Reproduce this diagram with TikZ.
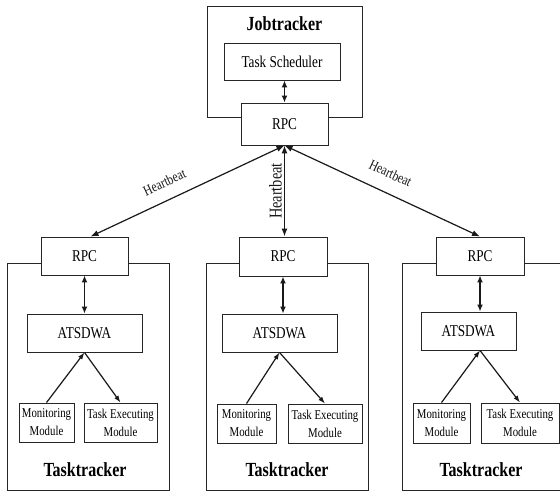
\documentclass[tikz,border=0pt]{standalone}
\usepackage{fontspec}
\setmainfont[FakeStretch=0.8]{Liberation Serif}
\usetikzlibrary{arrows.meta}
\begin{document}
\begin{tikzpicture}[x=1pt,y=-1pt,
  box/.style={draw=black!85,line width=0.9pt,fill=white,rectangle,inner sep=0pt,anchor=center},
  outer/.style={draw=black!85,line width=0.9pt,rectangle,inner sep=0pt},
  mid/.style={font=\fontsize{16.5}{18}\selectfont},
  small/.style={font=\fontsize{13.5}{18}\selectfont,align=center},
  title/.style={font=\fontsize{20}{22}\selectfont\bfseries},
  dbl/.style={{Latex[length=7pt,width=6pt]}-{Latex[length=7pt,width=6pt]},line width=1.8pt,black!90},
  arr/.style={-{Latex[length=7pt,width=5pt]},line width=1.2pt,black!90},
  hb/.style={{Latex[length=8pt,width=6pt]}-{Latex[length=8pt,width=6pt]},line width=1.2pt,black!90},
  hblab/.style={font=\fontsize{14.5}{16}\selectfont,sloped,above,inner sep=2pt}
]
\useasboundingbox (0,0) rectangle (560,491);
\clip (0,0) rectangle (560,491);
\fill[white] (0,0) rectangle (560,491);

% Jobtracker
\node[outer,minimum width=155pt,minimum height=111pt] (job) at (284.5,61.5) {};
\node[title] (jt) at (284.5,24) {Jobtracker};
\node[box,mid,minimum width=116pt,minimum height=37pt] (ts) at (282,61.5) {Task Scheduler};
\node[box,mid,minimum width=87pt,minimum height=42pt] (jrpc) at (284.5,124) {RPC};
\draw[dbl] (ts.south -| jrpc.north) -- (jrpc.north);

% Left tasktracker
\node[outer,minimum width=162pt,minimum height=227pt] (oL) at (88,376.5) {};
\node[box,mid,minimum width=87pt,minimum height=38pt] (rpcL) at (84.5,256) {RPC};
\node[box,mid,minimum width=115pt,minimum height=38pt] (atsL) at (84.5,333) {ATSDWA};
\node[box,small,minimum width=55pt,minimum height=39pt] (monL) at (46.5,422.5) {Monitoring\\Module};
\node[box,small,minimum width=73pt,minimum height=39pt] (exL) at (120.5,422.5) {Task Executing\\Module};
\node[title] (ttL) at (85,470) {Tasktracker};
\draw[dbl] (rpcL.south) -- (atsL.north);
\coordinate (apL) at (atsL.south);
\draw[arr] (monL.north) -- (apL);
\draw[arr] (apL) -- (exL.north);

% Middle tasktracker
\node[outer,minimum width=162pt,minimum height=227pt] (oM) at (287,376.5) {};
\node[box,mid,minimum width=88pt,minimum height=39pt] (rpcM) at (283,256.5) {RPC};
\node[box,mid,minimum width=115pt,minimum height=38pt] (atsM) at (279.5,333) {ATSDWA};
\node[box,small,minimum width=59pt,minimum height=39pt] (monM) at (246.5,423.5) {Monitoring\\Module};
\node[box,small,minimum width=74pt,minimum height=39pt] (exM) at (325,423.5) {Task Executing\\Module};
\node[title] (ttM) at (287,470) {Tasktracker};
\draw[dbl] (rpcM.south) -- (rpcM.south |- atsM.north);
\coordinate (apM) at (atsM.south);
\draw[arr] (monM.north) -- (apM);
\draw[arr] (apM) -- (exM.north);

% Right tasktracker
\node[outer,minimum width=170pt,minimum height=227pt] (oR) at (487,376.5) {};
\node[box,mid,minimum width=88pt,minimum height=38pt] (rpcR) at (480,256) {RPC};
\node[box,mid,minimum width=95pt,minimum height=38pt] (atsR) at (468.5,331) {ATSDWA};
\node[box,small,minimum width=57pt,minimum height=40pt] (monR) at (441.5,423) {Monitoring\\Module};
\node[box,small,minimum width=78pt,minimum height=40pt] (exR) at (520,423) {Task Executing\\Module};
\node[title] (ttR) at (481,470) {Tasktracker};
\draw[dbl] (rpcR.south) -- (rpcR.south |- atsR.north);
\coordinate (apR) at (rpcR.south |- atsR.south);
\draw[arr] (monR.north) -- (apR);
\draw[arr] (apR) -- (exR.north);

% Heartbeats
\draw[hb] ([xshift=6pt]rpcL.north) -- node[hblab,pos=0.42,yshift=10pt] {Heartbeat} (jrpc.south);
\draw[hb] (jrpc.south) -- node[hblab,pos=0.5,yshift=12pt] {Heartbeat} (rpcR.north);
\draw[hb] (rpcM.north -| jrpc.south) -- node[hblab,pos=0.5,font=\fontsize{18}{20}\selectfont,inner sep=2pt] {Heartbeat} (jrpc.south);
\end{tikzpicture}
\end{document}
